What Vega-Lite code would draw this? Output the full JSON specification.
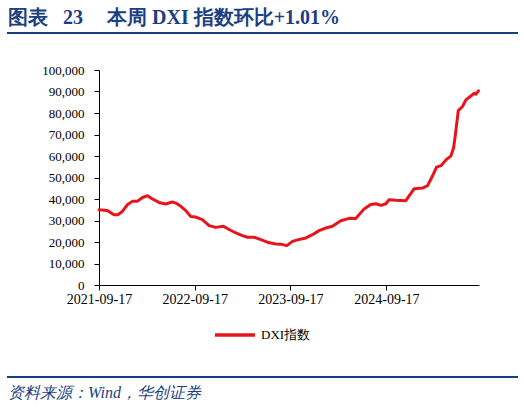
{
  "$schema": "https://vega.github.io/schema/vega-lite/v6.json",
  "background": "white",
  "padding": {"left": 6, "top": 8, "right": 7, "bottom": 4},
  "config": {
    "font": "Liberation Serif, Times New Roman, serif",
    "view": {"stroke": null},
    "axis": {
      "labelFont": "Liberation Serif, Times New Roman, serif",
      "labelFontSize": 13,
      "labelColor": "#000000",
      "domainColor": "#000000",
      "tickColor": "#000000",
      "tickSize": 5,
      "grid": false,
      "title": null
    }
  },
  "spacing": 30,
  "vconcat": [
    {
      "width": 419,
      "height": 1,
      "title": {
        "text": "图表\u2002\u200523\u2003\u2009本周 DXI 指数环比+1.01%",
        "anchor": "start",
        "frame": "bounds",
        "font": "Liberation Serif, Times New Roman, serif",
        "fontSize": 20,
        "fontWeight": "bold",
        "color": "#1b3f80",
        "offset": 4,
        "dx": 2
      },
      "data": {"values": [{"part": "header"}]},
      "mark": {"type": "rule", "color": "#1b3f80", "strokeWidth": 2},
      "encoding": {
        "x": {"datum": 0, "type": "quantitative", "scale": {"domain": [0, 1], "range": [-92, 419]}, "axis": null},
        "x2": {"datum": 1},
        "y": {"datum": 0, "type": "quantitative", "scale": {"domain": [0, 1]}, "axis": null}
      }
    },
    {
      "width": 380,
      "height": 215,
      "data": {
        "values": [
          {"date": "2021-09-17", "value": 35000},
          {"date": "2021-10-19", "value": 34700},
          {"date": "2021-11-13", "value": 32700},
          {"date": "2021-11-28", "value": 32700},
          {"date": "2021-12-15", "value": 34200},
          {"date": "2022-01-03", "value": 37300},
          {"date": "2022-01-22", "value": 38900},
          {"date": "2022-02-10", "value": 38900},
          {"date": "2022-03-02", "value": 40700},
          {"date": "2022-03-21", "value": 41500},
          {"date": "2022-04-09", "value": 40000},
          {"date": "2022-05-04", "value": 38400},
          {"date": "2022-05-29", "value": 37700},
          {"date": "2022-06-24", "value": 38600},
          {"date": "2022-07-07", "value": 38100},
          {"date": "2022-07-26", "value": 36600},
          {"date": "2022-08-14", "value": 34600},
          {"date": "2022-09-02", "value": 31900},
          {"date": "2022-09-21", "value": 31600},
          {"date": "2022-10-16", "value": 30400},
          {"date": "2022-11-11", "value": 27600},
          {"date": "2022-12-06", "value": 26800},
          {"date": "2023-01-05", "value": 27300},
          {"date": "2023-01-26", "value": 25800},
          {"date": "2023-02-21", "value": 24200},
          {"date": "2023-03-18", "value": 23000},
          {"date": "2023-04-06", "value": 22200},
          {"date": "2023-05-01", "value": 22200},
          {"date": "2023-05-27", "value": 21100},
          {"date": "2023-06-21", "value": 19900},
          {"date": "2023-07-23", "value": 19100},
          {"date": "2023-08-11", "value": 19000},
          {"date": "2023-09-03", "value": 18300},
          {"date": "2023-09-25", "value": 20300},
          {"date": "2023-10-14", "value": 21000},
          {"date": "2023-11-15", "value": 21900},
          {"date": "2023-12-10", "value": 23400},
          {"date": "2024-01-04", "value": 25300},
          {"date": "2024-01-30", "value": 26500},
          {"date": "2024-02-24", "value": 27300},
          {"date": "2024-03-27", "value": 29900},
          {"date": "2024-04-28", "value": 31000},
          {"date": "2024-05-23", "value": 30900},
          {"date": "2024-06-24", "value": 35400},
          {"date": "2024-07-19", "value": 37400},
          {"date": "2024-08-08", "value": 37800},
          {"date": "2024-08-27", "value": 37000},
          {"date": "2024-09-15", "value": 37800},
          {"date": "2024-09-27", "value": 39700},
          {"date": "2024-10-23", "value": 39400},
          {"date": "2024-11-30", "value": 39200},
          {"date": "2025-01-01", "value": 44800},
          {"date": "2025-02-02", "value": 45100},
          {"date": "2025-02-21", "value": 46200},
          {"date": "2025-03-12", "value": 50800},
          {"date": "2025-03-27", "value": 54800},
          {"date": "2025-04-13", "value": 55500},
          {"date": "2025-05-02", "value": 58200},
          {"date": "2025-05-21", "value": 60100},
          {"date": "2025-05-31", "value": 63700},
          {"date": "2025-06-06", "value": 69000},
          {"date": "2025-06-13", "value": 76000},
          {"date": "2025-06-18", "value": 81100},
          {"date": "2025-07-04", "value": 83000},
          {"date": "2025-07-17", "value": 86100},
          {"date": "2025-08-05", "value": 87900},
          {"date": "2025-08-18", "value": 89200},
          {"date": "2025-08-24", "value": 88700},
          {"date": "2025-09-03", "value": 90300}
        ]
      },
      "mark": {"type": "line", "strokeWidth": 3, "strokeJoin": "round", "strokeCap": "round"},
      "encoding": {
        "x": {
          "field": "date",
          "type": "temporal",
          "scale": {
            "type": "utc",
            "domain": [
              {"year": 2021, "month": 9, "date": 17, "utc": true},
              {"year": 2025, "month": 9, "date": 5, "utc": true}
            ]
          },
          "axis": {
            "values": [
              {"year": 2021, "month": 9, "date": 17, "utc": true},
              {"year": 2022, "month": 9, "date": 17, "utc": true},
              {"year": 2023, "month": 9, "date": 17, "utc": true},
              {"year": 2024, "month": 9, "date": 17, "utc": true}
            ],
            "format": "%Y-%m-%d",
            "labelFontSize": 14,
            "labelPadding": 2,
            "labelFlush": false,
            "labelOverlap": false
          }
        },
        "y": {
          "field": "value",
          "type": "quantitative",
          "scale": {"domain": [0, 100000]},
          "axis": {
            "values": [0, 10000, 20000, 30000, 40000, 50000, 60000, 70000, 80000, 90000, 100000],
            "format": ",d",
            "labelPadding": 10,
            "minExtent": 92
          }
        },
        "color": {
          "datum": "DXI指数",
          "type": "nominal",
          "scale": {"range": ["#e8141c"]},
          "legend": {
            "title": null,
            "orient": "none",
            "legendX": 114,
            "legendY": 281,
            "symbolType": "stroke",
            "symbolSize": 1600,
            "symbolStrokeWidth": 3.5,
            "labelFont": "Liberation Serif, Times New Roman, serif",
            "labelFontSize": 13,
            "labelColor": "#000000"
          }
        }
      }
    },
    {
      "width": 419,
      "height": 41,
      "title": {
        "text": "资料来源：Wind，华创证券",
        "orient": "bottom",
        "anchor": "start",
        "frame": "bounds",
        "font": "Liberation Serif, Times New Roman, serif",
        "fontSize": 16,
        "fontStyle": "italic",
        "fontWeight": "normal",
        "color": "#1b3f80",
        "offset": 7,
        "dx": 2
      },
      "data": {"values": [{"part": "footer"}]},
      "mark": {"type": "rule", "color": "#1b3f80", "strokeWidth": 2},
      "encoding": {
        "x": {"datum": 0, "type": "quantitative", "scale": {"domain": [0, 1], "range": [-92, 419]}, "axis": null},
        "x2": {"datum": 1},
        "y": {"datum": 0, "type": "quantitative", "scale": {"domain": [0, 1]}, "axis": null}
      }
    }
  ]
}
